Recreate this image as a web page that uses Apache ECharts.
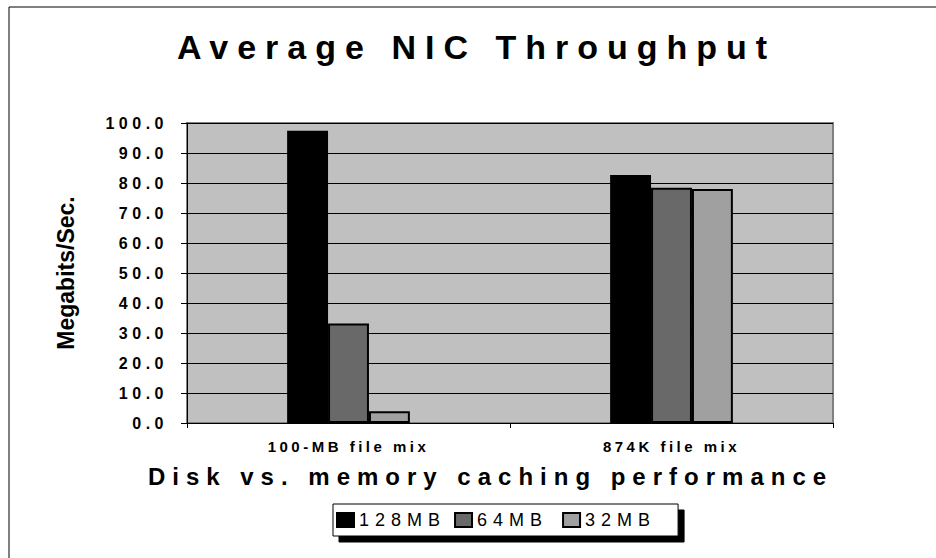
<!DOCTYPE html>
<html>
<head>
<meta charset="utf-8">
<script src="https://cdn.jsdelivr.net/npm/echarts@6/dist/echarts.min.js"></script>
<style>
  html, body { margin: 0; padding: 0; background: #fff; }
  #chart { width: 936px; height: 558px; }
</style>
</head>
<body>
<div id="chart"></div>
<script>
const categories = ['100-MB file mix', '874K file mix'];
const seriesNames = ['128MB', '64MB', '32MB'];
const mb128 = [97.4, 82.7];
const mb64 = [33.2, 78.4];
const mb32 = [3.9, 78.0];
const colors = ['#000000', '#696969', '#a0a0a0'];

const font = 'Liberation Sans, Arial, sans-serif';

// the original (old Excel export) draws most texts letter-spaced
const spacing = {
  'Average NIC Throughput': 9,
  'Disk vs. memory caching performance': 7,
  '100-MB file mix': 3.5,
  '874K file mix': 3.5,
  '128MB': 6,
  '64MB': 6,
  '32MB': 6
};

const chartDom = document.getElementById('chart');
const myChart = echarts.init(chartDom, null, { renderer: 'svg' });

function spaceTexts() {
  chartDom.querySelectorAll('svg text').forEach(function (el) {
    const t = el.textContent;
    let s = spacing[t];
    if (s === undefined && /^\d+\.0$/.test(t)) s = 4.5;
    if (s !== undefined) el.style.letterSpacing = s + 'px';
  });
}
myChart.on('finished', spaceTexts);

const barStyle = { borderColor: '#000', borderWidth: 2 };

const option = {
  animation: false,
  textStyle: { fontFamily: font, color: '#000' },
  title: {
    text: 'Average NIC Throughput',
    left: 177,
    top: 30,
    padding: 0,
    textStyle: { fontSize: 34, fontWeight: 'bold', color: '#000', fontFamily: font }
  },
  graphic: [{
    type: 'rect',
    shape: { x: 9, y: 7, width: 960, height: 600 },
    style: { fill: 'none', stroke: '#000', lineWidth: 1 },
    silent: true
  }],
  legend: {
    data: seriesNames,
    left: 333,
    top: 504,
    itemWidth: 17,
    itemHeight: 14,
    itemGap: 38,
    padding: [7, 46, 7, 3],
    backgroundColor: '#fff',
    borderColor: '#000',
    borderWidth: 1,
    shadowColor: '#000',
    shadowOffsetX: 6,
    shadowOffsetY: 6,
    shadowBlur: 0,
    textStyle: { fontSize: 18, color: '#000', fontFamily: font },
    icon: 'rect'
  },
  grid: {
    left: 187,
    right: 103,
    top: 123,
    bottom: 135,
    show: true,
    backgroundColor: '#c0c0c0',
    borderColor: '#808080',
    borderWidth: 2
  },
  xAxis: {
    type: 'category',
    data: categories,
    name: 'Disk vs. memory caching performance',
    nameLocation: 'middle',
    nameGap: 41,
    nameTextStyle: { fontSize: 24, fontWeight: 'bold', color: '#000', padding: [0, 39, 0, 0] },
    axisLine: { lineStyle: { color: '#000', width: 1 } },
    axisTick: { show: true, length: 5, lineStyle: { color: '#000' } },
    axisLabel: { fontSize: 15, fontWeight: 'bold', color: '#000', margin: 16 }
  },
  yAxis: {
    type: 'value',
    min: 0,
    max: 100,
    interval: 10,
    name: 'Megabits/Sec.',
    nameLocation: 'middle',
    nameRotate: 90,
    nameGap: 110,
    nameTextStyle: { fontSize: 23, fontWeight: 'bold', color: '#000' },
    axisLine: { show: true, lineStyle: { color: '#000', width: 1 } },
    axisTick: { show: true, length: 6, lineStyle: { color: '#000' } },
    axisLabel: {
      fontSize: 16,
      fontWeight: 'bold',
      color: '#000',
      margin: 19,
      formatter: function (v) { return v.toFixed(1); }
    },
    splitLine: { show: true, lineStyle: { color: '#000', width: 1 } }
  },
  series: [
    { name: seriesNames[0], type: 'bar', data: mb128, barGap: '0%', barCategoryGap: '62%',
      itemStyle: Object.assign({ color: colors[0] }, barStyle) },
    { name: seriesNames[1], type: 'bar', data: mb64,
      itemStyle: Object.assign({ color: colors[1] }, barStyle) },
    { name: seriesNames[2], type: 'bar', data: mb32,
      itemStyle: Object.assign({ color: colors[2] }, barStyle) }
  ]
};

myChart.setOption(option);
spaceTexts();
window.addEventListener('resize', function () {
  myChart.resize();
});
</script>
</body>
</html>
